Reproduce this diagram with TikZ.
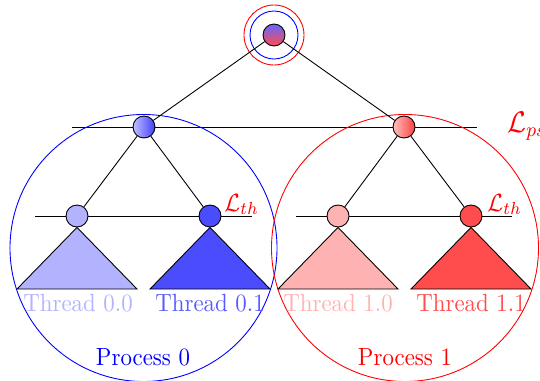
\documentclass[tikz,border=0pt]{standalone}
\newcommand{\stretchtxt}[1]{\scalebox{1.03}[1.12]{#1}}
\begin{document}
\begin{tikzpicture}[x=0.45pt,y=-0.45pt,
  dot/.style={circle,draw=black,inner sep=0pt,minimum size=9.9pt},
  ring/.style={circle,inner sep=0pt},
  proc/.style={circle,inner sep=0pt,minimum size=120.15pt},
  lvl/.style={draw=black},
  edge/.style={draw=black},
  tri/.style={draw=black},
  lab/.style={anchor=base},
  llab/.style={anchor=base west,text=red,inner sep=0pt}]
\useasboundingbox (0,0) rectangle (540,380);
\clip (0,0) rectangle (540,380);
% level lines
\coordinate (psL) at (72,127);  \coordinate (psR) at (477,127);
\coordinate (thLa) at (35,216); \coordinate (thLb) at (252,216);
\coordinate (thRa) at (296,216); \coordinate (thRb) at (512,216);
\draw[lvl] (psL) -- (psR);
\draw[lvl] (thLa) -- (thLb);
\draw[lvl] (thRa) -- (thRb);
% process circles
\node[proc,draw=blue] (proc0) at (143.5,248) {};
\node[proc,draw=red] (proc1) at (405,248) {};
% root
\node[dot,top color=blue!60,bottom color=red!70] (root) at (274,35) {};
\node[ring,draw=blue,minimum size=21.6pt] (ringb) at (root) {};
\node[ring,draw=red,minimum size=27pt] (ringr) at (root) {};
% processes
\node[dot,left color=blue!25,right color=blue!75] (p0) at (144,127) {};
\node[dot,left color=red!25,right color=red!75] (p1) at (404,127) {};
% threads
\node[dot,fill=blue!30] (t00) at (77,216) {};
\node[dot,fill=blue!70] (t01) at (210,216) {};
\node[dot,fill=red!30] (t10) at (338,216) {};
\node[dot,fill=red!70] (t11) at (471,216) {};
% edges
\draw[edge] (root) -- (p0);
\draw[edge] (root) -- (p1);
\draw[edge] (p0) -- (t00);
\draw[edge] (p0) -- (t01);
\draw[edge] (p1) -- (t10);
\draw[edge] (p1) -- (t11);
% triangles
\coordinate (b00l) at (17,289);  \coordinate (b00r) at (137,289);
\coordinate (b01l) at (150,289); \coordinate (b01r) at (270,289);
\coordinate (b10l) at (278,289); \coordinate (b10r) at (398,289);
\coordinate (b11l) at (411,289); \coordinate (b11r) at (531,289);
\draw[tri,fill=blue!30] (t00.south) -- (b00r) -- (b00l) -- cycle;
\draw[tri,fill=blue!70] (t01.south) -- (b01r) -- (b01l) -- cycle;
\draw[tri,fill=red!30] (t10.south) -- (b10r) -- (b10l) -- cycle;
\draw[tri,fill=red!70] (t11.south) -- (b11r) -- (b11l) -- cycle;
% labels
\node[lab,text=blue!30] (l00) at (78,311) {\stretchtxt{Thread 0.0}};
\node[lab,text=blue!65] (l01) at (210,311) {\stretchtxt{Thread 0.1}};
\node[lab,text=red!30] (l10) at (338,311) {\stretchtxt{Thread 1.0}};
\node[lab,text=red!70] (l11) at (471,311) {\stretchtxt{Thread 1.1}};
\node[lab,text=blue] (n0) at (143,365) {\stretchtxt{Process 0}};
\node[lab,text=red] (n1) at (405,365) {\stretchtxt{Process 1}};
\node[llab] (lth0) at (224,211) {\stretchtxt{$\mathcal{L}_{th}$}};
\node[llab] (lth1) at (487,211) {\stretchtxt{$\mathcal{L}_{th}$}};
\node[llab,font=\large] (lps) at (507,132) {\stretchtxt{$\mathcal{L}_{ps}$}};
\end{tikzpicture}
\end{document}
